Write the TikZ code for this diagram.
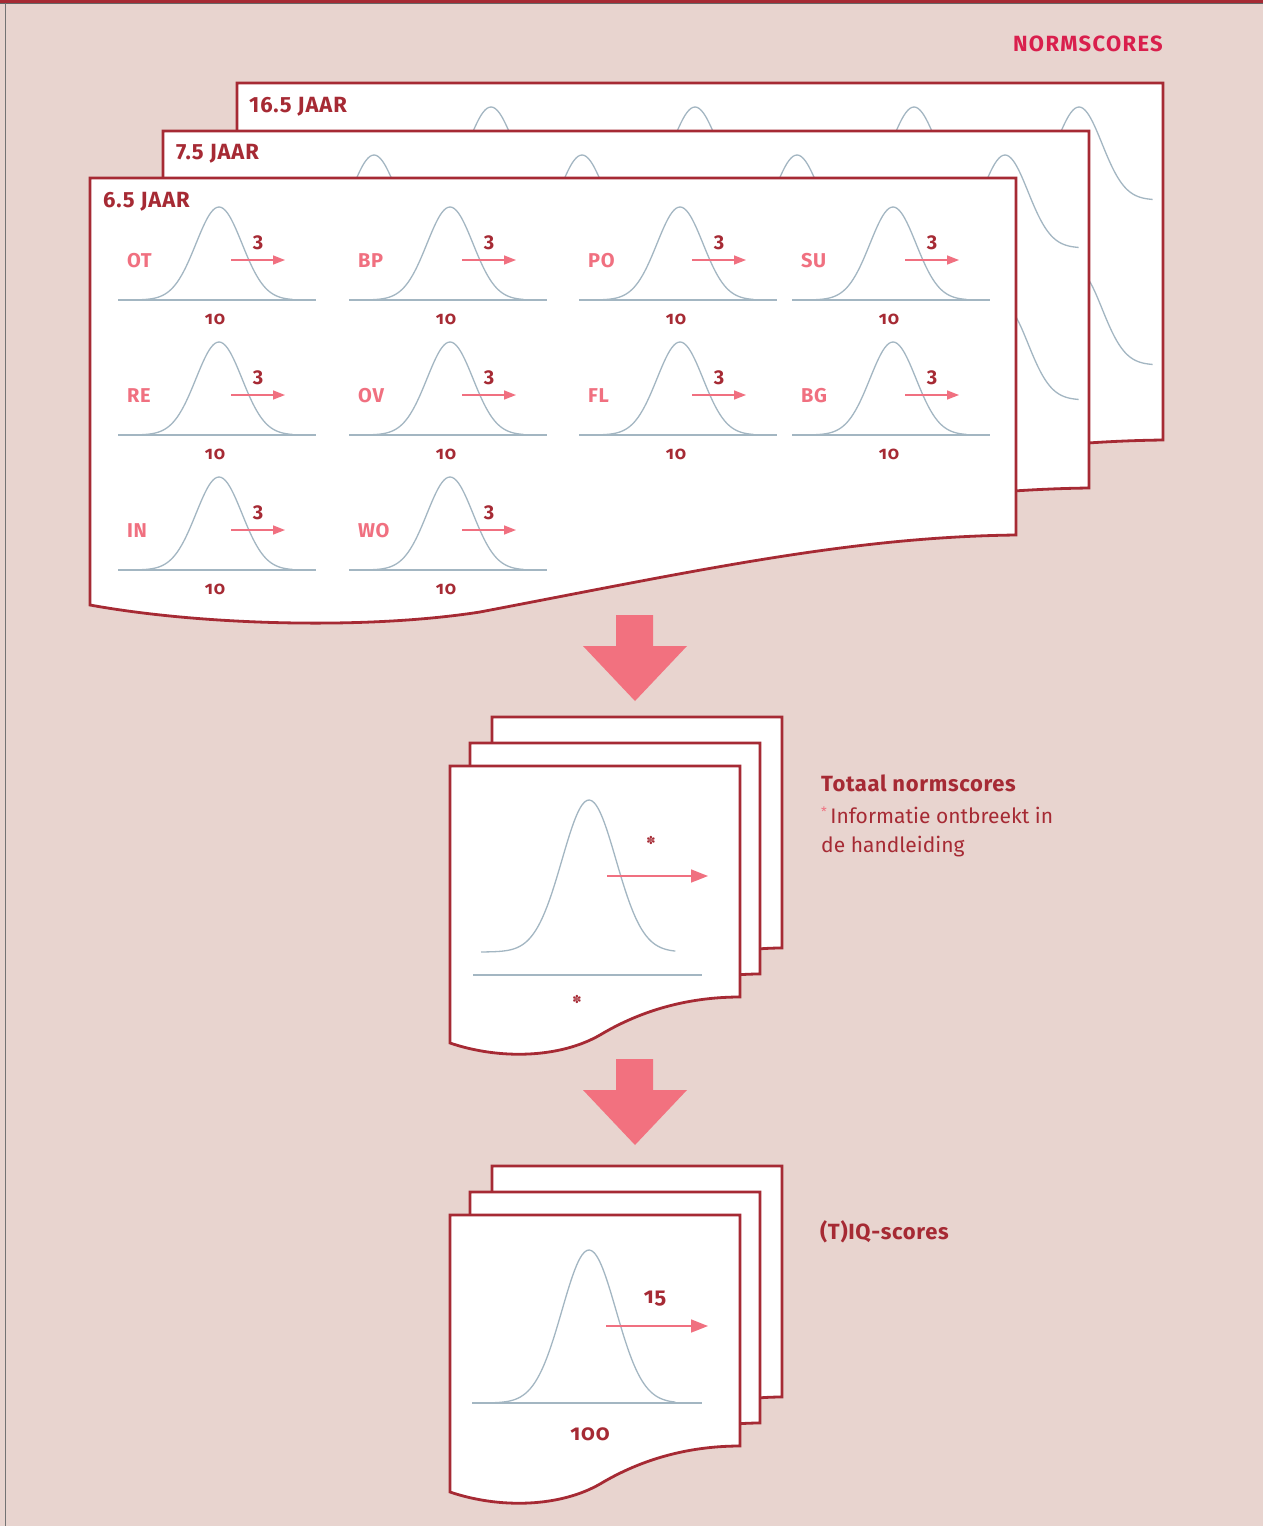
\documentclass[tikz,border=0pt]{standalone}
\usepackage{fontspec}
\setmainfont{Fira Sans}
\newfontfamily\osf{Fira Sans}[Numbers=OldStyle]
\newfontfamily\symf{DejaVu Sans}
\usetikzlibrary{arrows.meta}
\definecolor{bgpink}{HTML}{E8D4CF}
\definecolor{dred}{HTML}{A62A34}
\definecolor{lpink}{HTML}{F07080}
\definecolor{crim}{HTML}{D91F4D}
\definecolor{curvec}{HTML}{A3B6C2}
\definecolor{blockp}{HTML}{F2717F}
\tikzset{
  pageframe/.style={fill=white, draw=dred, line width=2.8pt, line join=miter},
  bellline/.style={draw=curvec, line width=1.3pt},
  baseline/.style={draw=curvec, line width=1.3pt},
  parrow/.style={draw=lpink, line width=1.5pt, -{Triangle[length=12pt,width=9pt]}},
  bigparrow/.style={draw=lpink, line width=1.6pt, -{Triangle[length=17pt,width=13pt]}},
  pglab/.style={text=dred, font=\fontsize{22}{26}\selectfont\bfseries\addfontfeature{LetterSpace=4}, anchor=west, inner sep=0pt},
  sublab/.style={text=lpink, font=\fontsize{20}{24}\selectfont\bfseries\addfontfeature{LetterSpace=3}, anchor=west, inner sep=0pt},
  sdlab/.style={text=dred, font=\fontsize{20}{24}\selectfont\bfseries, inner sep=0pt},
  numlab/.style={text=dred, font=\osf\fontsize{18}{22}\selectfont\bfseries\addfontfeature{LetterSpace=4}, inner sep=0pt},
  bignum/.style={text=dred, font=\osf\fontsize{22}{26}\selectfont\bfseries\addfontfeature{LetterSpace=4}, inner sep=0pt},
  legbold/.style={text=dred, font=\fontsize{22}{26}\selectfont\bfseries\addfontfeature{LetterSpace=3}, anchor=west, inner sep=0pt},
  legtext/.style={text=dred, font=\fontsize{21}{25}\selectfont, anchor=west, inner sep=0pt},
  astmark/.style={text=dred, font=\symf\fontsize{11}{11}\selectfont, inner sep=0pt},
}
% bell curve: centre x, base y, sigma, height
\newcommand\bellc[4]{\draw[bellline] plot[domain=-4:3.2,samples=80,smooth] ({#1+#3*(\x)},{#2-#4*exp(-(\x)*(\x)/2)});}
\newcommand\bigpage[2]{\begin{scope}[shift={(#1,#2)}]
  \filldraw[pageframe] (1016,535) -- (1016,178) -- (90,178) -- (90,605)
    .. controls (200,625) and (365,630) .. (480,612)
    .. controls (700,570) and (850,537) .. (1016,535) -- cycle;
  \end{scope}}
\newcommand\smallpage[2]{\begin{scope}[shift={(#1,#2)}]
  \filldraw[pageframe] (740,997) -- (740,766) -- (450,766) -- (450,1043)
    .. controls (500,1060) and (560,1058) .. (600,1035)
    .. controls (650,1005) and (700,997) .. (740,997) -- cycle;
  \end{scope}}
% one sub-test cell: name, label, centre x, row offset
\newcommand\cell[4]{%
  \bellc{#3}{300+#4}{23}{93}
  \draw[baseline] (#3-101,300+#4) -- (#3+97,300+#4);
  \node[sublab] (lab#1) at (#3-92,261+#4) {#2};
  \coordinate (as#1) at (#3+12,260+#4);
  \coordinate (ae#1) at (#3+66,260+#4);
  \draw[parrow] (as#1) -- (ae#1);
  \node[sdlab] (sd#1) at (#3+39,243+#4) {3};
  \node[numlab] (mn#1) at (#3-4,319+#4) {10};
}
\begin{document}
\begin{tikzpicture}[x=1pt,y=-1pt]
\useasboundingbox (0,0) rectangle (1263,1526);
\fill[bgpink] (0,0) rectangle (1263,1526);
\fill[dred] (0,0) rectangle (1263,3);
\draw[black!60, line width=1pt] (0,3.5) -- (1263,3.5);
\draw[black!55, line width=1.5pt] (5.5,3) -- (5.5,1526);

\node[text=crim, font=\fontsize{22}{26}\selectfont\bfseries\addfontfeature{LetterSpace=6}, anchor=east, inner sep=0pt] (title) at (1163,44) {NORMSCORES};

% page 16.5
\bigpage{147}{-95}
\bellc{491}{200}{23}{93}
\bellc{695}{200}{23}{93}
\bellc{914}{200}{23}{93}
\bellc{1079}{200}{23}{93}
\bellc{1079}{365}{23}{93}
\node[pglab] (p16) at (249,107) {16.5 JAAR};

% page 7.5
\bigpage{73}{-47}
\bellc{374}{248}{23}{93}
\bellc{582}{248}{23}{93}
\bellc{797}{248}{23}{93}
\bellc{1005}{248}{23}{93}
\bellc{1005}{400}{23}{93}
\node[pglab] (p7) at (176,154) {7.5 JAAR};

% page 6.5
\bigpage{0}{0}
\node[pglab] (p6) at (103,202) {6.5 JAAR};
\cell{ot}{OT}{219}{0}
\cell{bp}{BP}{450}{0}
\cell{po}{PO}{680}{0}
\cell{su}{SU}{893}{0}
\cell{re}{RE}{219}{135}
\cell{ov}{OV}{450}{135}
\cell{fl}{FL}{680}{135}
\cell{bg}{BG}{893}{135}
\cell{in}{IN}{219}{270}
\cell{wo}{WO}{450}{270}

% block arrow 1
\fill[blockp] (616,615) -- (653,615) -- (653,646) -- (687,646) -- (635,701) -- (583,646) -- (616,646) -- cycle;

% middle stack
\smallpage{42}{-49}
\smallpage{20}{-23}
\smallpage{0}{0}
\bellc{589}{952}{27}{152}
\draw[baseline] (473,975) -- (702,975);
\coordinate (mas) at (607,876);
\coordinate (mae) at (708,876);
\draw[bigparrow] (mas) -- (mae);
\node[astmark] (ast1) at (651,840) {✽};
\node[astmark] (ast2) at (577,999) {✽};
\node[legbold] (leg1) at (821,783) {Totaal normscores};
\node[legtext] (leg2) at (821,815) {\raisebox{0.3em}{\textcolor{lpink}{\fontsize{13}{13}\selectfont *}}\,Informatie ontbreekt in};
\node[legtext] (leg3) at (821,847) {de handleiding};

% block arrow 2
\fill[blockp] (616,1059) -- (653,1059) -- (653,1090) -- (687,1090) -- (635,1145) -- (583,1090) -- (616,1090) -- cycle;

% bottom stack
\smallpage{42}{400}
\smallpage{20}{426}
\smallpage{0}{449}
\bellc{589}{1403}{27}{153}
\draw[baseline] (472,1403) -- (702,1403);
\coordinate (bas) at (606,1326);
\coordinate (bae) at (708,1326);
\draw[bigparrow] (bas) -- (bae);
\node[bignum] (sd15) at (655,1299) {15};
\node[bignum] (mn100) at (590,1434) {100};
\node[legbold] (leg4) at (820,1232) {(T)IQ-scores};
\end{tikzpicture}
\end{document}
